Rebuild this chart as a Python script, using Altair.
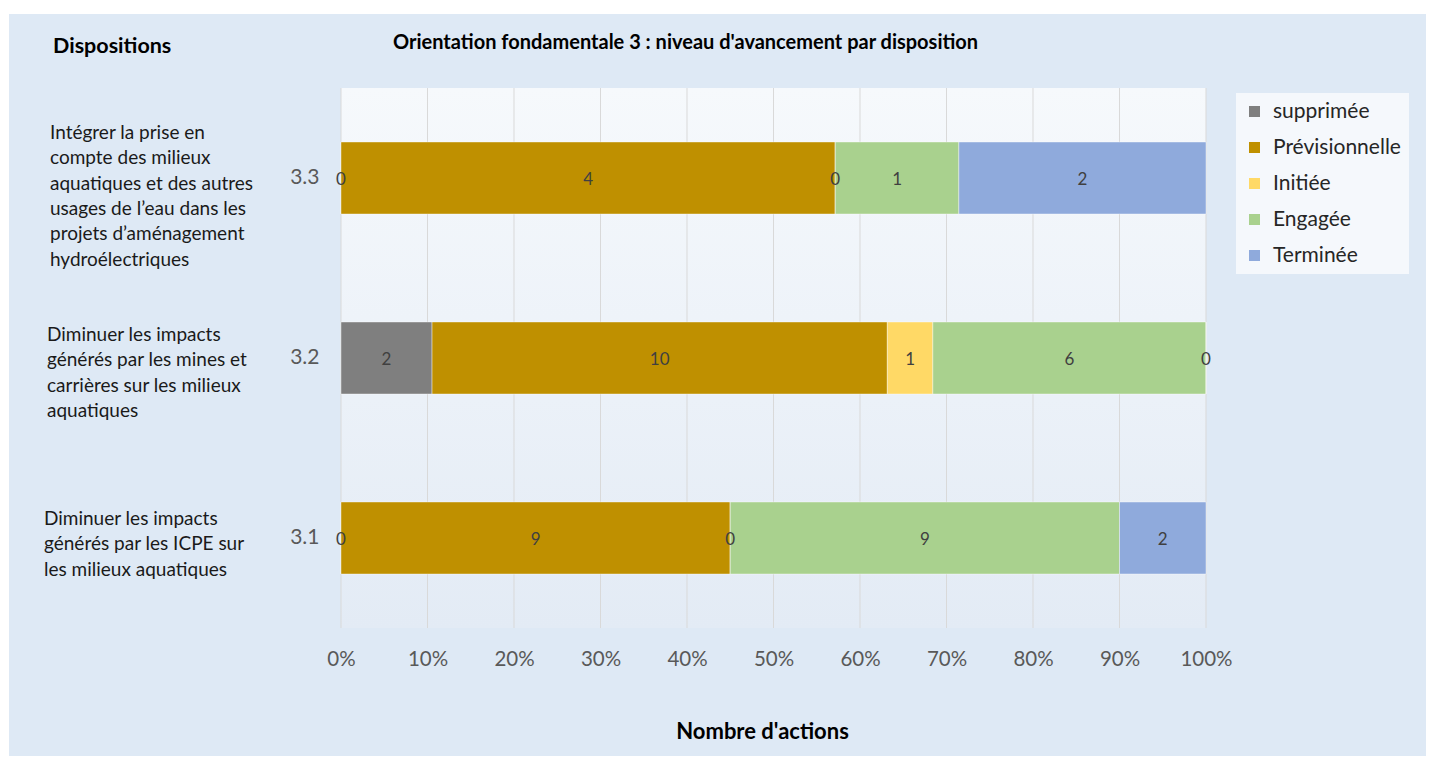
import altair as alt
import pandas as pd

categories = ["3.3", "3.2", "3.1"]
statuses = ["supprimée", "Prévisionnelle", "Initiée", "Engagée", "Terminée"]
colors = ["#7f7f7f", "#bf9000", "#ffd966", "#a9d18e", "#8faadc"]
counts_33 = [0, 4, 0, 1, 2]
counts_32 = [2, 10, 1, 6, 0]
counts_31 = [0, 9, 0, 9, 2]
descriptions = [
    "Intégrer la prise en\ncompte des milieux\naquatiques et des autres\nusages de l’eau dans les\nprojets d’aménagement\nhydroélectriques",
    "Diminuer les impacts\ngénérés par les mines et\ncarrières sur les milieux\naquatiques",
    "Diminuer les impacts\ngénérés par les ICPE sur\nles milieux aquatiques",
]
tick_values = [0.0, 0.1, 0.2, 0.3, 0.4, 0.5, 0.6, 0.7, 0.8, 0.9, 1.0]
main_title = "Orientation fondamentale 3 : niveau d'avancement par disposition"
left_title = "Dispositions"
x_title = "Nombre d'actions"

rows = []
for cat, vals in zip(categories, [counts_33, counts_32, counts_31]):
    for i, (s, v) in enumerate(zip(statuses, vals)):
        rows.append({"cat": cat, "status": s, "order": i, "value": v})
df = pd.DataFrame(rows)
desc_df = pd.DataFrame({"cat": categories, "desc": descriptions})
ticks_df = pd.DataFrame({"x0": tick_values})

W, H = 865, 540
FONT = "Lato"

x_scale = alt.Scale(domain=[0, 1], nice=False)
y_scale = alt.Scale(domain=categories, paddingInner=0.6, paddingOuter=0.3)

x_axis = alt.Axis(
    values=tick_values, format="%", grid=False, domain=False, ticks=False,
    labelFontSize=20.5, labelColor="#595959", labelPadding=21, labelFont=FONT,
    labelFlush=False, labelOverlap=False, zindex=1,
    title=x_title, titleFontSize=22, titleFontWeight="bold", titleColor="#000000",
    titleFont=FONT, titlePadding=52, titleX=421,
)
y_axis = alt.Axis(
    title=None, ticks=False, domain=False, grid=False, zindex=1,
    labelFontSize=21, labelColor="#595959", labelPadding=22, labelFont=FONT,
)

outer = alt.Chart(pd.DataFrame({"a": [0]})).mark_rect(fill="#dee9f5").encode(
    x=alt.value(-332), x2=alt.value(1085), y=alt.value(-74), y2=alt.value(H + 128)
)

bg = alt.Chart(pd.DataFrame({"a": [0]})).mark_rect(
    fill=alt.LinearGradient(
        gradient="linear", x1=0, x2=0, y1=0, y2=1,
        stops=[alt.GradientStop(color="#f6f9fc", offset=0),
               alt.GradientStop(color="#e3ebf5", offset=1)],
    )
).encode(x=alt.value(0), x2=alt.value(W), y=alt.value(0), y2=alt.value(H))

grid = alt.Chart(ticks_df).mark_rule(color="#d9d9d9", strokeWidth=1).encode(
    x=alt.X("x0:Q", scale=x_scale, axis=x_axis)
)

base = alt.Chart(df).transform_stack(
    stack="value", groupby=["cat"], as_=["x0", "x1"], offset="normalize",
    sort=[alt.SortField("order", order="ascending")],
).transform_calculate(mid="(datum.x0 + datum.x1) / 2")

bars = base.mark_bar(stroke="#ffffff", strokeOpacity=0.4, strokeWidth=1).encode(
    x=alt.X("x0:Q", scale=x_scale, axis=x_axis),
    x2="x1:Q",
    y=alt.Y("cat:N", scale=y_scale, axis=y_axis, sort=categories),
    color=alt.Color(
        "status:N",
        scale=alt.Scale(domain=statuses, range=colors),
        legend=alt.Legend(
            title=None, orient="none", legendX=895, legendY=5,
            fillColor="#f5f8fc", padding=8, symbolType="square",
            symbolSize=121, symbolStrokeWidth=0, labelFontSize=21,
            labelFont=FONT, labelColor="#262626", rowPadding=14, labelOffset=8,
            labelLimit=300, zindex=2,
        ),
    ),
)

labels = base.mark_text(fontSize=17, color="#404040", font=FONT, dy=2).encode(
    x=alt.X("mid:Q", scale=x_scale, axis=x_axis),
    y=alt.Y("cat:N", scale=y_scale, axis=y_axis, sort=categories),
    text=alt.Text("value:Q"),
)

desc_layers = []
offsets = {"3.3": (-291, -45), "3.2": (-294, -23), "3.1": (-297, -19)}
for cat in categories:
    dx_val, dy_val = offsets[cat]
    desc_layers.append(
        alt.Chart(desc_df).transform_filter(alt.datum.cat == cat).mark_text(
            align="left", baseline="middle", lineBreak="\n", lineHeight=25.3,
            fontSize=19, font=FONT, color="#1a1a1a", dy=dy_val,
        ).encode(
            x=alt.value(dx_val),
            y=alt.Y("cat:N", scale=y_scale, axis=y_axis, sort=categories),
            text="desc:N",
        )
    )

t_main = alt.Chart(pd.DataFrame({"t": [main_title]})).mark_text(
    align="left", baseline="middle", fontSize=20, fontWeight="bold",
    font=FONT, color="#000000",
).encode(x=alt.value(52), y=alt.value(-45), text="t:N")

t_left = alt.Chart(pd.DataFrame({"t": [left_title]})).mark_text(
    align="left", baseline="middle", fontSize=21.5, fontWeight="bold",
    font=FONT, color="#000000",
).encode(x=alt.value(-288), y=alt.value(-41), text="t:N")

chart = alt.layer(outer, bg, grid, bars, labels, *desc_layers, t_main, t_left).properties(
    width=W, height=H,
    background="#ffffff",
    padding={"left": 333, "top": 80, "right": 221, "bottom": 128},
    autosize=alt.AutoSizeParams(type="none"),
).configure_view(stroke=None).configure_text(font=FONT)

chart.save("out.html", embed_options={"renderer": "svg", "actions": False})
